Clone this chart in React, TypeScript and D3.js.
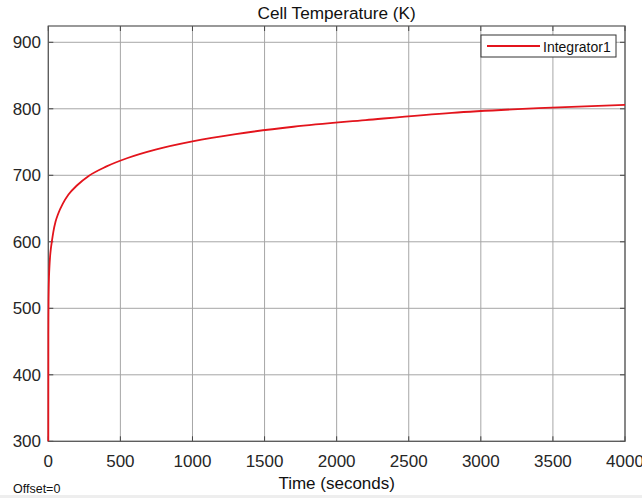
import React from "react";
import * as d3 from "d3";

const timeS = [0, 0.5, 1, 2, 3, 5, 8, 12, 18, 25, 35, 50, 70, 100, 140, 200, 280, 400, 550, 750, 1000, 1300, 1700, 2200, 2800, 3400, 4000];
const tempK = [300, 460, 490, 515, 530, 548, 563, 577, 590, 601, 615, 630, 643, 657, 671, 685, 699, 713, 726, 739, 751, 762, 773, 783, 794, 801, 806];
const xTicks = [0, 500, 1000, 1500, 2000, 2500, 3000, 3500, 4000];
const yTicks = [300, 400, 500, 600, 700, 800, 900];
const seriesName = "Integrator1";
const titleText = "Cell Temperature (K)";
const xLabelText = "Time (seconds)";

export default function App() {
  const W = 642, H = 498;
  const left = 48.3, right = 625, top = 26, bottom = 441.3;
  const x = d3.scaleLinear().domain([0, 4000]).range([left, right]);
  const y = d3.scaleLinear().domain([300, 924.5]).range([bottom, top]);
  const data = timeS.map((t, i) => [t, tempK[i]] as [number, number]);
  const line = d3.line<[number, number]>().x(d => x(d[0])).y(d => y(d[1])).curve(d3.curveMonotoneX);
  const font = "'Liberation Sans', Arial, Helvetica, sans-serif";
  const txt = "#262626";
  return (
    <svg width={W} height={H} style={{ position: "absolute", left: 0, top: 0, display: "block", background: "#fff" }} fontFamily={font}>
      <rect x={0} y={0} width={W} height={H} fill="#fff" />
      <rect x={0} y={495} width={W} height={3} fill="#eeeeee" />
      <text x={(left + right) / 2} y={18.5} textAnchor="middle" fontSize={17.2} fill="#111">{titleText}</text>
      {xTicks.map(t => (
        <line key={"gx" + t} x1={x(t)} x2={x(t)} y1={top} y2={bottom} stroke="#a6a6a6" strokeWidth={1} />
      ))}
      {yTicks.map(t => (
        <line key={"gy" + t} x1={left} x2={right} y1={y(t)} y2={y(t)} stroke="#a6a6a6" strokeWidth={1} />
      ))}
      {xTicks.map(t => (
        <g key={"tx" + t}>
          <line x1={x(t)} x2={x(t)} y1={bottom} y2={bottom - 5} stroke="#444" />
          <line x1={x(t)} x2={x(t)} y1={top} y2={top + 5} stroke="#444" />
        </g>
      ))}
      {yTicks.map(t => (
        <g key={"ty" + t}>
          <line x1={left} x2={left + 5} y1={y(t)} y2={y(t)} stroke="#444" />
          <line x1={right} x2={right - 5} y1={y(t)} y2={y(t)} stroke="#444" />
        </g>
      ))}
      <rect x={left} y={top} width={right - left} height={bottom - top} fill="none" stroke="#555" strokeWidth={1.2} />
      <path d={line(data) || ""} fill="none" stroke="#e3141c" strokeWidth={1.8} />
      {yTicks.map(t => (
        <text key={"ly" + t} x={41} y={y(t)} dy="0.36em" textAnchor="end" fontSize={17} fill={txt}>{t}</text>
      ))}
      {xTicks.map(t => (
        <text key={"lx" + t} x={x(t)} y={467} textAnchor="middle" fontSize={17} fill={txt}>{t}</text>
      ))}
      <text x={(left + right) / 2} y={489} textAnchor="middle" fontSize={17} fill="#111">{xLabelText}</text>
      <text x={13} y={492.5} fontSize={12.5} fill="#111">Offset=0</text>
      <g>
        <rect x={481} y={35} width={135} height={22} fill="#fff" stroke="#333" strokeWidth={1} />
        <line x1={487} x2={540} y1={46} y2={46} stroke="#e3141c" strokeWidth={1.8} />
        <text x={543} y={51.5} fontSize={14} fill="#111">{seriesName}</text>
      </g>
    </svg>
  );
}
